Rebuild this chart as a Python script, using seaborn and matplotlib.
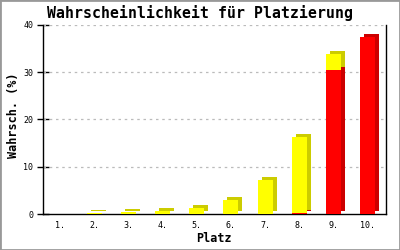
import matplotlib
matplotlib.use("Agg")
import matplotlib.pyplot as plt
import matplotlib.transforms as mtransforms
import seaborn as sns
import pandas as pd

places = ["1.", "2.", "3.", "4.", "5.", "6.", "7.", "8.", "9.", "10."]
red_vals = [0, 0, 0, 0, 0, 0, 0, 0.3, 30.5, 37.5]
yellow_vals = [0, 0.15, 0.35, 0.6, 1.35, 3.0, 7.2, 16.1, 3.4, 0]
y_ticks = [0, 10, 20, 30, 40]

sns.set_theme(style="white")
plt.rcParams["font.family"] = ["DejaVu Sans Mono", "DejaVu Sans"]
plt.rcParams["text.color"] = "black"
plt.rcParams["axes.labelcolor"] = "black"

total_vals = [r + y for r, y in zip(red_vals, yellow_vals)]
df = pd.DataFrame({"Platz": places, "total": total_vals, "red": red_vals})

fig = plt.figure(figsize=(4, 2.5), dpi=100)
ax = fig.add_axes([0.1075, 0.144, 0.8565, 0.756])

W = 0.44
off = mtransforms.ScaledTranslation(4 / 100, 3 / 100, fig.dpi_scale_trans)

# shadows (3D depth)
n0 = len(ax.patches)
sns.barplot(data=df, x="Platz", y="total", color="#CCCC00", saturation=1, width=W, ax=ax, linewidth=0)
sns.barplot(data=df, x="Platz", y="red", color="#CC0000", saturation=1, width=W, ax=ax, linewidth=0)
for p in ax.patches[n0:]:
    p.set_transform(ax.transData + off)
    p.set_zorder(2)
n1 = len(ax.patches)
sns.barplot(data=df, x="Platz", y="total", color="#FFFF00", saturation=1, width=W, ax=ax, linewidth=0)
sns.barplot(data=df, x="Platz", y="red", color="#FF0000", saturation=1, width=W, ax=ax, linewidth=0)
for p in ax.patches[n1:]:
    p.set_zorder(3)
for p in ax.patches:
    if p.get_height() <= 0:
        p.set_visible(False)

ax.set_xlim(-0.5, 9.53)
ax.set_ylim(0, 40)
ax.set_yticks(y_ticks)
ax.set_yticklabels([str(t) for t in y_ticks])
for y in y_ticks[1:]:
    ax.axhline(y, color="#BBBBBB", linestyle=(0, (2, 3)), linewidth=0.9, zorder=1)

for s in ["left", "bottom", "right"]:
    ax.spines[s].set_visible(True)
    ax.spines[s].set_color("black")
    ax.spines[s].set_linewidth(1.0)
ax.spines["top"].set_visible(False)

ax.tick_params(axis="y", direction="inout", length=8, width=1, labelsize=6, pad=3, left=True,
               colors="black", labelcolor="black")
ax.tick_params(axis="x", length=0, labelsize=6, pad=5, colors="black", labelcolor="black")
ax.set_xlabel("Platz", fontsize=8.5, fontweight="bold", color="black")
ax.xaxis.label.set_va("center")
ax.xaxis.set_label_coords(0.5, -0.128)
ax.set_ylabel("Wahrsch. (%)", fontsize=8.5, fontweight="bold", color="black")
ax.yaxis.label.set_va("center")
ax.yaxis.set_label_coords(-0.085, 0.52)
fig.text(0.5, 0.948, "Wahrscheinlichkeit für Platzierung", ha="center", va="center",
         fontsize=10.7, fontweight="bold", color="black")

fig.patches.append(plt.Rectangle((0, 0), 1, 1, transform=fig.transFigure, fill=False,
                                 edgecolor="#999999", linewidth=2))
fig.savefig("out.png", dpi=100, facecolor="white")
